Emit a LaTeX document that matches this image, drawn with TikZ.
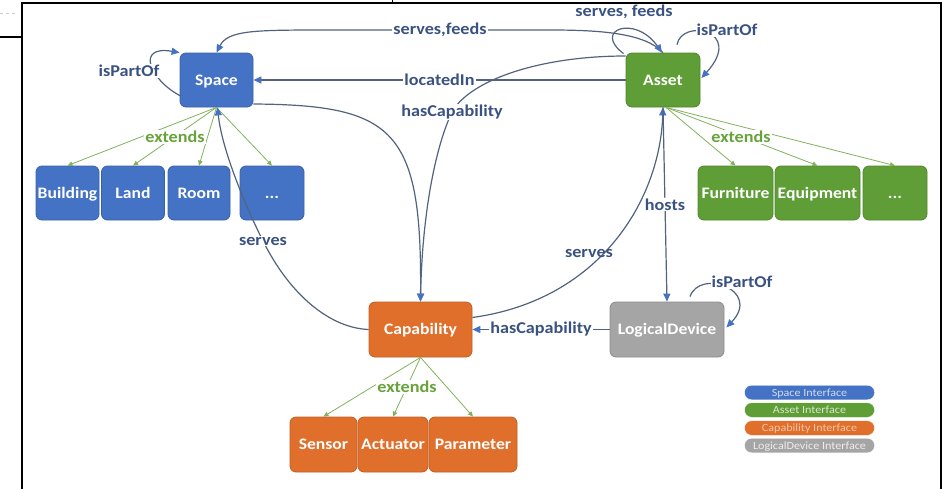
\documentclass[tikz,border=0pt]{standalone}
\usepackage{fontspec}
\setmainfont{Carlito}[FakeStretch=1.1]
\usetikzlibrary{arrows.meta,calc}
\definecolor{spblue}{HTML}{4472C4}
\definecolor{asgreen}{HTML}{5F9E36}
\definecolor{caporange}{HTML}{E06F2B}
\definecolor{ldgrey}{HTML}{A5A5A5}
\definecolor{linec}{HTML}{52627F}
\definecolor{labc}{HTML}{3A5282}
\definecolor{arrowc}{HTML}{4472C4}
\definecolor{extc}{HTML}{82B25E}
\definecolor{extlabc}{HTML}{67A23A}
\newcommand\ndfont{\bfseries\fontsize{16}{19}\selectfont}
\newcommand\lbfont{\bfseries\fontsize{16.5}{19}\selectfont}
\newcommand\lgfont{\fontsize{11}{12}\selectfont}
\tikzset{
  box/.style={rounded corners=6pt, minimum height=54pt, inner sep=0pt, text=white, font=\ndfont, line width=0.8pt, text height=12pt, text depth=2pt},
  spbox/.style={box, fill=spblue, draw=spblue!85!black},
  asbox/.style={box, fill=asgreen, draw=asgreen!85!black},
  capbox/.style={box, fill=caporange, draw=caporange!85!black},
  ldbox/.style={box, fill=ldgrey, draw=ldgrey!85!black},
  rel/.style={draw=linec, line width=1.2pt},
  arr/.style={-{Triangle[length=8pt,width=7pt,color=arrowc]}},
  lab/.style={text=labc, font=\lbfont, fill=white, inner sep=1pt},
  plainlab/.style={text=labc, font=\lbfont, inner sep=1pt},
  ext/.style={draw=extc, line width=0.8pt, -{Triangle[length=5pt,width=4.5pt]}},
  extlab/.style={text=extlabc, font=\lbfont, fill=white, inner sep=1pt},
  legendpill/.style={rounded corners=7pt, minimum width=130pt, minimum height=14.5pt, inner sep=0pt, font=\lgfont, draw=white, line width=0.4pt, text height=8pt, text depth=1pt}
}
\begin{document}
\begin{tikzpicture}[x=1pt,y=-1pt]
\useasboundingbox (0,0) rectangle (943,488);
% frame artefacts
\draw[line width=1.8pt] (22,495) -- (22,3) -- (941,3) -- (941,495);
\draw[line width=1.8pt] (0,37) -- (22,37);
\draw[line width=0.8pt] (392,0) -- (392,3);
\draw[gray!40, dashed, line width=0.5pt] (0,13) -- (18,13);

% nodes
\node[spbox, minimum width=73pt] (Space) at (216.5,80) {Space};
\node[asbox, minimum width=74pt] (Asset) at (663,80) {Asset};
\node[spbox, minimum width=63pt] (Building) at (67.5,193) {Building};
\node[spbox, minimum width=63pt] (Land) at (133,193) {Land};
\node[spbox, minimum width=62pt] (Room) at (199,193) {Room};
\node[spbox, minimum width=64pt] (SpaceMore) at (272,193) {...};
\node[asbox, minimum width=75pt] (Furniture) at (735.5,193) {Furniture};
\node[asbox, minimum width=85pt] (Equipment) at (817.5,193) {Equipment};
\node[asbox, minimum width=64pt] (AssetMore) at (895,193) {...};
\node[capbox, minimum width=103pt, minimum height=55pt] (Capability) at (420.5,329.5) {Capability};
\node[ldbox, minimum width=114pt, minimum height=55pt] (LogicalDevice) at (667,329.5) {LogicalDevice};
\node[capbox, minimum width=67pt, minimum height=55pt] (Sensor) at (323.5,444.5) {Sensor};
\node[capbox, minimum width=70pt, minimum height=55pt] (Actuator) at (393,444.5) {Actuator};
\node[capbox, minimum width=88pt, minimum height=55pt] (Parameter) at (473,444.5) {Parameter};

% extends
\foreach \t in {Building,Land,Room,SpaceMore} \draw[ext] (Space.south) -- (\t.north);
\node[extlab] (extS) at (175,137) {extends};
\foreach \t in {Furniture,Equipment,AssetMore} \draw[ext] ($(Asset.south)+(3,0)$) -- (\t.north);
\node[extlab] (extA) at (741,137) {extends};
\foreach \t in {Sensor,Actuator,Parameter} \draw[ext] (Capability.south) -- (\t.north);
\node[extlab] (extC) at (407,387) {extends};

% serves,feeds (long)
\draw[rel, arr] (Asset.north) .. controls (645,33) and (600,30) .. (550,30) -- node[lab]{serves,feeds} (330,30) .. controls (255,30) and (228,30) .. (Space.north);
% serves, feeds loop
\draw[rel, arr] ($(Asset.north west)+(-2,1)$) .. controls (592,30) and (635,14) .. ($(Asset.north)+(-1,0)$);
\node[plainlab] (lblSF) at (624,12) {serves, feeds};
% locatedIn
\draw[rel, arr] (Asset.west) -- node[lab]{locatedIn} (Space.east);
% hasCapability upper
\draw[rel, arr] ($(Asset.west)+(0,-24)$) .. controls (540,56) and (470,80) .. (452,112) node[lab]{hasCapability} .. controls (434,150) and (422,220) .. (Capability.north);
% Space -> Capability
\draw[rel, arr] ($(Space.east)+(0,24)$) .. controls (395,105) and (422,130) .. (Capability.north);
% serves Capability -> Space
\draw[rel, arr] (Capability.west) .. controls (330,328) and (290,295) .. (263,241) node[lab]{serves} .. controls (245,205) and (222,150) .. ($(Space.south)+(1,0)$);
% serves Capability -> Asset
\draw[rel, arr] ($(Capability.east)+(0,-12)$) .. controls (600,300) and (660,200) .. (Asset.south);
\node[plainlab] (lblSA) at (589,253) {serves};
% hosts
\draw[rel, arr] (Asset.south) -- node[lab]{hosts} (LogicalDevice.north);
% hasCapability lower
\draw[rel, arr] (LogicalDevice.west) -- node[lab]{hasCapability} (Capability.east);
% isPartOf loops
\draw[rel, arr] ($(Space.west)+(1,16)$) .. controls (150,80) and (135,45) .. (Space.north west);
\node[lab] (ipS) at (129,71) {isPartOf};
\draw[rel, arr] ($(Asset.north)+(14,-8)$) .. controls (682,18) and (745,30) .. ($(Asset.east)+(1,-2)$);
\node[lab] (ipA) at (727,30) {isPartOf};
\draw[rel, arr] ($(LogicalDevice.north)+(23,-5)$) .. controls (700,268) and (762,290) .. ($(LogicalDevice.east)+(2,-2)$);
\node[lab] (ipL) at (742,282) {isPartOf};

% legend
\node[legendpill, fill=spblue, text=spblue!25!white] (L1) at (809.5,392.5) {Space Interface};
\node[legendpill, fill=asgreen, text=asgreen!25!white] (L2) at (809.5,410) {Asset Interface};
\node[legendpill, fill=caporange, text=caporange!40!white] (L3) at (809.5,428) {Capability Interface};
\node[legendpill, fill=ldgrey, text=ldgrey!20!white] (L4) at (809.5,445.5) {LogicalDevice Interface};
\end{tikzpicture}
\end{document}
